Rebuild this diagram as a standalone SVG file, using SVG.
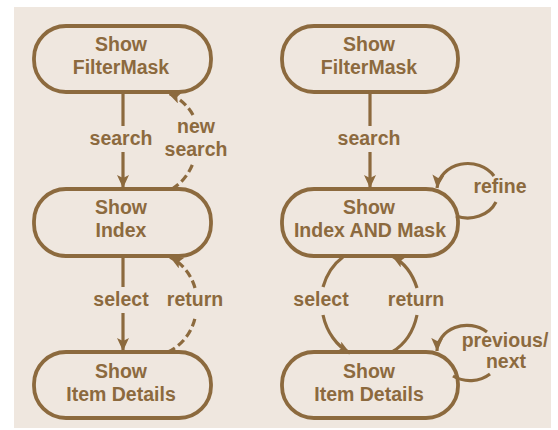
<svg xmlns="http://www.w3.org/2000/svg" width="558" height="430" viewBox="0 0 558 430">
  <style>
    .node rect { fill: none; stroke: #8c6a3e; stroke-width: 3.8; }
    text { font-family: "Liberation Sans", Arial, sans-serif; font-weight: bold; font-size: 19.5px; fill: #8c6a3e; text-anchor: middle; }
    .edge { fill: none; stroke: #8c6a3e; stroke-width: 3.2; }
    .dash { stroke-dasharray: 8 4; }
  </style>
  <defs>
    <marker id="arrow" markerUnits="userSpaceOnUse" markerWidth="15" markerHeight="13" refX="13" refY="6" orient="auto">
      <path d="M0,0 L13,6 L0,12 L3,6 z" fill="#8c6a3e"/>
    </marker>
  </defs>

  <rect x="14" y="7" width="537" height="421" fill="#efe7df"/>

  <!-- left flow -->
  <g id="left-filtermask" class="node">
    <rect x="34" y="26" width="177" height="66" rx="32" ry="32"/>
    <text x="121" y="51">Show</text>
    <text x="121" y="74">FilterMask</text>
  </g>
  <g id="left-index" class="node">
    <rect x="34" y="189" width="177" height="67" rx="32" ry="32"/>
    <text x="121" y="214">Show</text>
    <text x="121" y="237">Index</text>
  </g>
  <g id="left-details" class="node">
    <rect x="34" y="352" width="177" height="66" rx="32" ry="32"/>
    <text x="121" y="378">Show</text>
    <text x="121" y="401">Item Details</text>
  </g>

  <!-- right flow -->
  <g id="right-filtermask" class="node">
    <rect x="282" y="26" width="176" height="66" rx="32" ry="32"/>
    <text x="369" y="51">Show</text>
    <text x="369" y="74">FilterMask</text>
  </g>
  <g id="right-index" class="node">
    <rect x="282" y="189" width="176" height="67" rx="32" ry="32"/>
    <text x="369" y="214">Show</text>
    <text x="370" y="237">Index AND Mask</text>
  </g>
  <g id="right-details" class="node">
    <rect x="282" y="352" width="176" height="66" rx="32" ry="32"/>
    <text x="369" y="378">Show</text>
    <text x="369" y="401">Item Details</text>
  </g>

  <g id="connectors">
    <!-- left: search -->
    <path class="edge" d="M123,92 V126"/>
    <path class="edge" d="M123,152 V188" marker-end="url(#arrow)"/>
    <text x="121" y="145">search</text>
    <!-- left: new search (dashed) -->
    <path class="edge dash" d="M172,189 A50,51 0 0 0 193,163"/>
    <path class="edge dash" d="M193,115 A50,51 0 0 0 168,93" marker-end="url(#arrow)"/>
    <text x="196" y="133">new</text>
    <text x="196" y="156">search</text>
    <!-- left: select -->
    <path class="edge" d="M123,257 V287"/>
    <path class="edge" d="M123,313 V351" marker-end="url(#arrow)"/>
    <text x="121" y="306">select</text>
    <!-- left: return (dashed) -->
    <path class="edge dash" d="M168,352 A50,50 0 0 0 195,318"/>
    <path class="edge dash" d="M195,288 A50,50 0 0 0 170,257" marker-end="url(#arrow)"/>
    <text x="195" y="306">return</text>

    <!-- right: search -->
    <path class="edge" d="M370,92 V126"/>
    <path class="edge" d="M370,152 V188" marker-end="url(#arrow)"/>
    <text x="369" y="145">search</text>
    <!-- right: refine loop -->
    <path class="edge" d="M456,216 A31,27 0 0 0 496,202"/>
    <path class="edge" d="M494,176 A31,27 0 0 0 437,188" marker-end="url(#arrow)"/>
    <text x="500" y="193">refine</text>
    <!-- right: select / return -->
    <path class="edge" d="M343,257 A47,57 0 0 0 323,287"/>
    <path class="edge" d="M323,315 A47,57 0 0 0 350,353" marker-end="url(#arrow)"/>
    <text x="321" y="306">select</text>
    <path class="edge" d="M392,352 A47,57 0 0 0 417,315"/>
    <path class="edge" d="M417,288 A47,57 0 0 0 392,256" marker-end="url(#arrow)"/>
    <text x="416" y="306">return</text>
    <!-- right: previous/next loop -->
    <path class="edge" d="M453,376 A30,26 0 0 0 490,374"/>
    <path class="edge" d="M487,332 A30,26 0 0 0 437,351" marker-end="url(#arrow)"/>
    <text x="505" y="347">previous/</text>
    <text x="506" y="368">next</text>
  </g>
</svg>
